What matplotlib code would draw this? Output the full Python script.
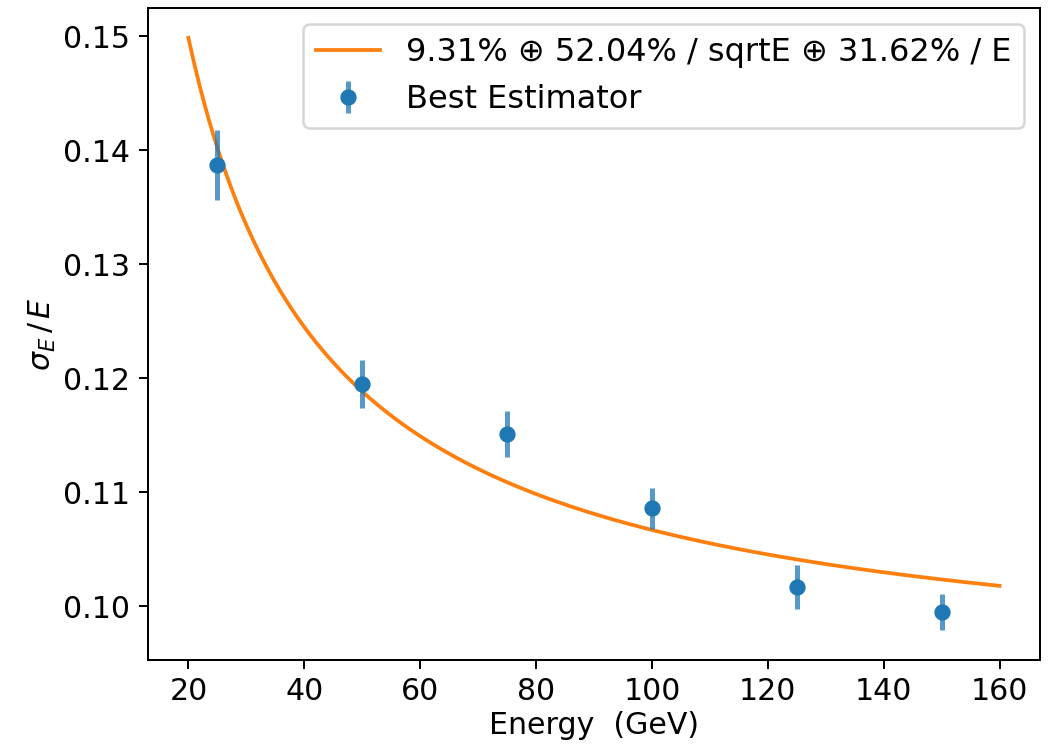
import numpy as np
import matplotlib
matplotlib.use("Agg")
import matplotlib.pyplot as plt

# measured points (energy in GeV, relative resolution, error)
energy = [25, 50, 75, 100, 125, 150]
resolution = [0.1387, 0.1195, 0.1151, 0.1086, 0.1017, 0.0995]
res_err = [0.0031, 0.0021, 0.0020, 0.0018, 0.0019, 0.0016]

# fit parameters from the legend (%): stochastic-type model a (+) b/sqrtE (+) c/E
fit_a, fit_b, fit_c = 9.31, 52.04, 31.62
fit_range = (20, 160)

plt.rcParams["font.size"] = 12

fig = plt.figure(figsize=(1056 / 180, 747 / 180), dpi=180)
ax = fig.add_axes([0.140, 0.1165, 0.845, 0.8725])

e_fit = np.linspace(fit_range[0], fit_range[1], 400)
model = np.sqrt((fit_a / 100) ** 2 + (fit_b / 100) ** 2 / e_fit + (fit_c / 100) ** 2 / e_fit ** 2)
ax.plot(e_fit, model, color="#ff7f0e",
        label=f"{fit_a:.2f}% \u2295 {fit_b:.2f}% / sqrtE \u2295 {fit_c:.2f}% / E")

ax.errorbar(energy, resolution, yerr=res_err, fmt="o", color="#1f77b4", markersize=5.5,
            ecolor=(0.12, 0.47, 0.71, 0.75), elinewidth=2, label="Best Estimator")

ax.set_xlabel("Energy  (GeV)", labelpad=2)
ax.set_ylabel(r"$\sigma_E\,/\,E$", labelpad=2)
ax.legend(loc="upper right", fontsize=12.8)

fig.savefig("out.png", dpi=180)
